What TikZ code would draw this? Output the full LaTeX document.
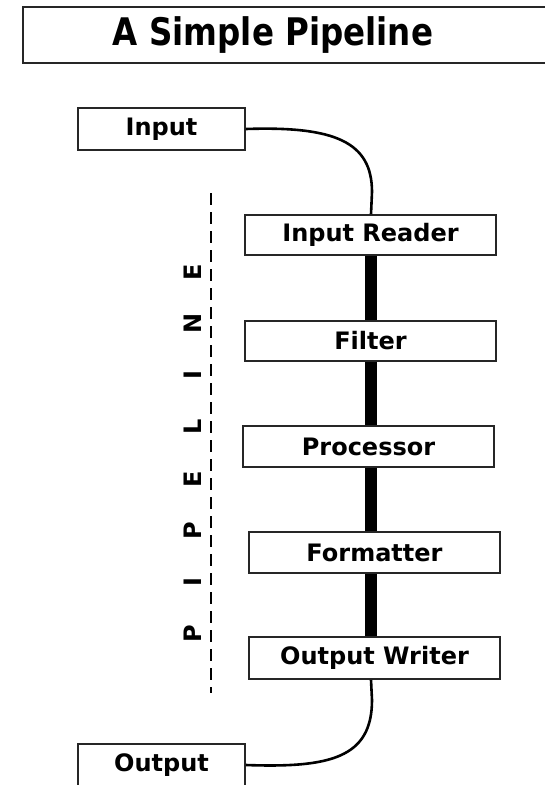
\documentclass[tikz,border=0pt]{standalone}
\usepackage{fontspec}
\setmainfont{DejaVu Sans}
\begin{document}
\begin{tikzpicture}[x=1pt,y=-1pt,
  stagebox/.style={draw=black!85, line width=1.6pt, fill=white, inner sep=0pt,
    minimum width=251pt, minimum height=40pt, font=\fontsize{24}{28}\selectfont\bfseries},
  endbox/.style={stagebox, minimum width=167pt, minimum height=42pt},
  thinflow/.style={line width=2.6pt, black},
  thickflow/.style={line width=12pt, black},
  letter/.style={rotate=90, inner sep=0pt, font=\fontsize{24}{28}\selectfont\bfseries}]
\useasboundingbox (0,0) rectangle (545,785);
\clip (0,0) rectangle (545,785);
\fill[white] (0,0) rectangle (545,785);
% title
\draw[black!85, line width=2pt] (23,7) rectangle (570,63);
\node[inner sep=0pt, font=\fontsize{38}{44}\selectfont\bfseries] (title) at (273,35)
  {\scalebox{0.855}[1]{A Simple Pipeline}};
% spine coordinate
\coordinate (spine) at (371,0);
% boxes
\node[endbox] (in) at (161.5,129) {Input};
\node[stagebox] (ir) at (370.5,235) {Input Reader};
\node[stagebox] (fi) at (370.5,341) {Filter};
\node[stagebox, minimum height=41pt] (pr) at (368.5,446.5) {Processor};
\node[stagebox, minimum height=41pt] (fm) at (374.5,552.5) {Formatter};
\node[stagebox, minimum height=42pt] (ow) at (374.5,658) {Output Writer};
\node[endbox] (out) at (161.5,765) {Output};
% thick connectors
\begin{scope}[on background layer/.style={}]
\draw[thickflow] (ir.south -| spine) -- (fi.north -| spine);
\draw[thickflow] (fi.south -| spine) -- (pr.north -| spine);
\draw[thickflow] (pr.south -| spine) -- (fm.north -| spine);
\draw[thickflow] (fm.south -| spine) -- (ow.north -| spine);
\end{scope}
% curves
\draw[thinflow] (in.east) .. controls (335,126) and (372,142) .. (372,192) -- (ir.north -| spine);
\draw[thinflow] (ow.south -| spine) -- (372,700) .. controls (372,758) and (330,768) .. (out.east);
% dashed line
\coordinate (dtop) at (211,193);
\coordinate (dbot) at (211,693);
\draw[black, line width=1.5pt, dash pattern=on 12pt off 7pt] (dtop) -- (dbot);
% PIPELINE letters
\foreach \ch [count=\k from 0] in {P,I,P,E,L,I,N,E}
  \node[letter] (let\k) at (193,{634-51.7*\k}) {\ch};
\end{tikzpicture}
\end{document}
